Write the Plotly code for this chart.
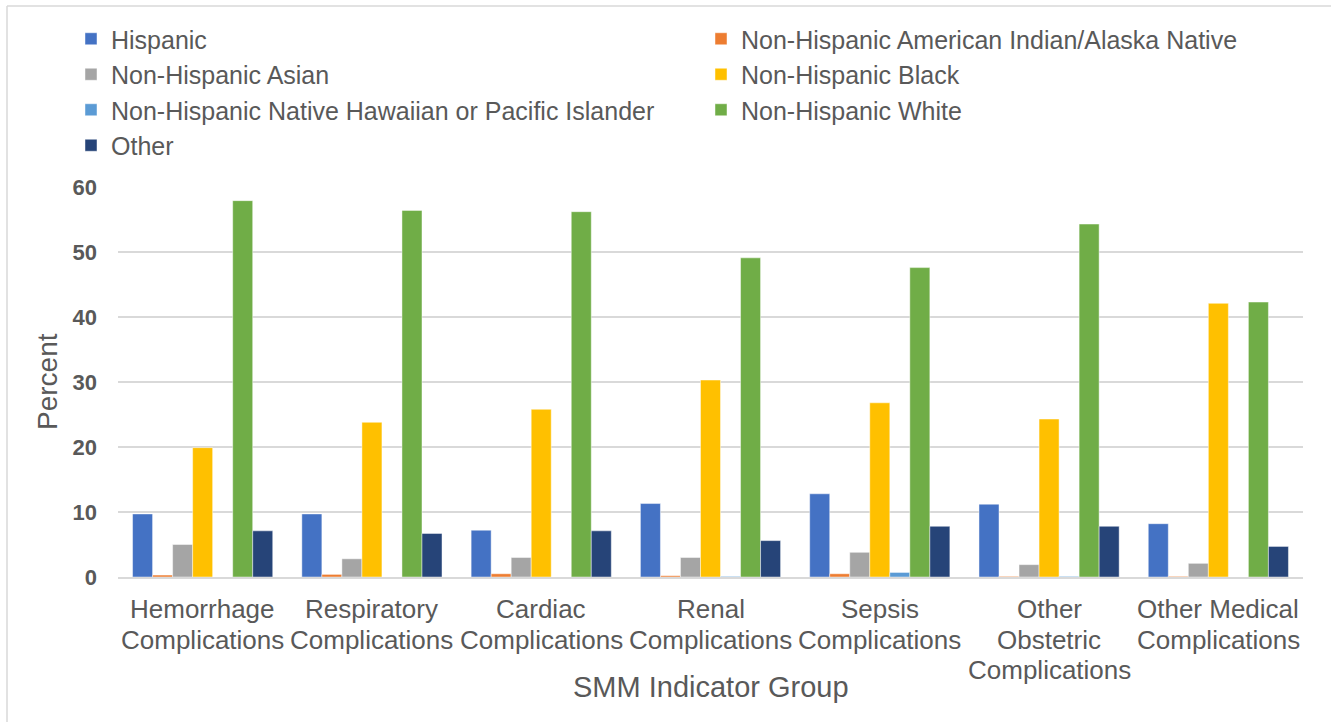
import plotly.graph_objects as go

# SMM indicator groups (line breaks mark the wrapped axis labels)
categories = [
    "Hemorrhage<br>Complications",
    "Respiratory<br>Complications",
    "Cardiac<br>Complications",
    "Renal<br>Complications",
    "Sepsis<br>Complications",
    "Other<br>Obstetric<br>Complications",
    "Other Medical<br>Complications",
]

hispanic = [9.7, 9.7, 7.2, 11.3, 12.8, 11.2, 8.2]
aian = [0.3, 0.4, 0.5, 0.2, 0.5, 0.1, 0.1]
asian = [5.0, 2.8, 3.0, 3.0, 3.8, 1.9, 2.1]
black = [19.9, 23.8, 25.8, 30.3, 26.8, 24.3, 42.1]
nhpi = [0.0, 0.0, 0.0, 0.1, 0.7, 0.1, 0.0]
white = [57.9, 56.4, 56.2, 49.1, 47.6, 54.3, 42.3]
other = [7.1, 6.7, 7.1, 5.6, 7.8, 7.8, 4.7]

series = [
    ("Hispanic", hispanic, "#4472C4"),
    ("Non-Hispanic American Indian/Alaska Native", aian, "#ED7D31"),
    ("Non-Hispanic Asian", asian, "#A5A5A5"),
    ("Non-Hispanic Black", black, "#FFC000"),
    ("Non-Hispanic Native Hawaiian or Pacific Islander", nhpi, "#5B9BD5"),
    ("Non-Hispanic White", white, "#70AD47"),
    ("Other", other, "#264478"),
]

y_ticks = [0, 10, 20, 30, 40, 50, 60]

FONT = "Liberation Sans, Arial, sans-serif"
TEXT = "#595959"

W, H = 1331, 722
L, R, T, B = 118, 28, 187, 145
PW = W - L - R
PH = H - T - B

fig = go.Figure()
for name, vals, color in series:
    fig.add_trace(go.Bar(
        x=categories, y=vals, name=name,
        marker=dict(color=color, line=dict(color="rgba(255,255,255,0.45)", width=1)),
    ))

# Category labels, one annotation per wrapped line
annotations = []
for cat in categories:
    for i, line in enumerate(cat.split("<br>")):
        annotations.append(dict(
            x=cat, xref="x", y=0, yref="paper",
            text=line, showarrow=False, xanchor="center", yanchor="middle",
            yshift=-(32 + 30.5 * i),
            font=dict(family=FONT, size=26, color=TEXT),
        ))

annotations.append(dict(
    x=0.5, xref="paper", y=0, yref="paper", text="SMM Indicator Group",
    showarrow=False, xanchor="center", yanchor="middle", yshift=-110,
    font=dict(family=FONT, size=29, color=TEXT),
))
annotations.append(dict(
    x=(47 - L) / PW, xref="paper", y=0.5, yref="paper", text="Percent",
    showarrow=False, xanchor="center", yanchor="middle", textangle=-90,
    font=dict(family=FONT, size=28, color=TEXT),
))

shapes = [
    dict(type="line", xref="paper", yref="paper",
         x0=(7 - L) / PW, x1=(7 - L) / PW, y0=(H - 6 - B) / PH, y1=-B / PH,
         line=dict(color="#D9D9D9", width=1.5)),
    dict(type="line", xref="paper", yref="paper",
         x0=(7 - L) / PW, x1=(W + 5 - L) / PW, y0=(H - 6 - B) / PH, y1=(H - 6 - B) / PH,
         line=dict(color="#D9D9D9", width=1.5)),
]

fig.update_layout(
    width=W, height=H,
    margin=dict(l=L, r=R, t=T, b=B, pad=0),
    paper_bgcolor="white", plot_bgcolor="white",
    barmode="group", bargap=0.172, bargroupgap=0,
    font=dict(family=FONT, color=TEXT),
    showlegend=True,
    legend=dict(
        orientation="h", x=(87 - L) / PW, xanchor="left",
        y=(H - B - 16) / PH, yanchor="top",
        entrywidth=585, entrywidthmode="pixels",
        font=dict(family=FONT, size=25, color=TEXT),
        traceorder="normal", itemclick=False,
        bgcolor="rgba(0,0,0,0)",
    ),
    xaxis=dict(
        showticklabels=False, showgrid=False, ticks="",
        showline=True, linecolor="#D9D9D9", linewidth=2,
    ),
    yaxis=dict(
        range=[0, 60], tickvals=y_ticks, ticks="",
        showgrid=True, gridcolor="#D9D9D9", gridwidth=1.5,
        zeroline=False, showline=False,
        tickfont=dict(family=FONT, size=22, color=TEXT, weight="bold"),
        ticklabelstandoff=20,
    ),
    annotations=annotations,
    shapes=shapes,
)

fig.write_html("out.html")
